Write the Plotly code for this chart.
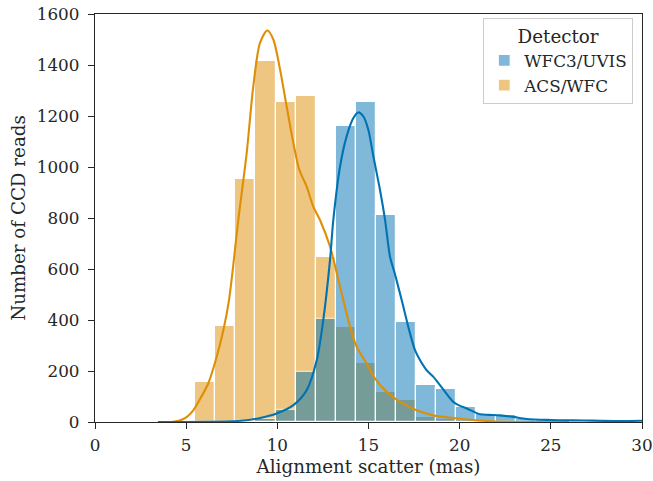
import plotly.graph_objects as go

# ---- data ----
bin_start = 5.5
bin_width = 1.1
wfc3_counts = [0, 1, 3, 10, 46, 196, 403, 1162, 1256, 812, 392, 147, 128, 59, 31, 29,
               12, 10, 6, 5, 4, 4, 3]
acs_counts = [156, 376, 952, 1417, 1256, 1278, 647, 373, 232, 118, 86, 20, 13, 8, 5, 3,
              2, 1, 1, 0, 0, 0, 0]

acs_kde_x = [4.2, 4.6, 5.0, 5.39, 5.8, 6.21, 6.67, 7.04, 7.35, 7.86, 8.32, 8.68, 9.05, 9.45,
             9.78, 10.15, 10.51, 10.88, 11.2, 11.61, 11.97, 12.34, 12.89, 13.44, 13.99, 14.35,
             14.9, 15.36, 16.0, 16.73, 17.64, 18.56, 19.65, 20.57, 21.48, 22.5, 24.0, 26.0]
acs_kde_y = [0, 5, 18, 46, 95, 151, 255, 360, 478, 792, 1055, 1316, 1487, 1535,
             1500, 1382, 1238, 1094, 990, 923, 845, 792, 688, 530, 373, 295,
             229, 170, 118, 79, 46, 26, 16, 9, 4, 1, 0, 0]

wfc3_kde_x = [3.45, 6.0, 8.0, 9.0, 9.96, 10.88, 11.61, 12.16, 12.52, 12.89, 13.07, 13.44, 13.8,
              14.17, 14.44, 14.72, 14.99, 15.27, 15.63, 15.91, 16.18, 16.45, 16.82, 17.28,
              17.55, 17.83, 18.19, 18.56, 18.92, 19.65, 20.0, 20.39, 21.12, 21.6, 22.21,
              22.94, 23.67, 24.96, 26.8, 28.6, 30.0]
wfc3_kde_y = [0, 1, 5, 15, 33, 66, 125, 242, 400, 636, 792, 1002, 1120,
              1192, 1214, 1198, 1146, 1041, 910, 792, 648, 580, 478, 347,
              282, 242, 203, 177, 145, 79, 64, 53, 30, 28, 26,
              20, 12, 8, 6, 4, 5]

labels = ["WFC3/UVIS", "ACS/WFC"]
colors = ["#0173b2", "#de8f05"]

x_ticks = [0, 5, 10, 15, 20, 25, 30]
y_ticks = [0, 200, 400, 600, 800, 1000, 1200, 1400, 1600]

centers = [bin_start + bin_width * (i + 0.5) for i in range(len(wfc3_counts))]

FONT = "DejaVu Serif"
TICK_SIZE = 16.8
TITLE_SIZE = 18.3
fig = go.Figure()

fig.add_trace(go.Bar(x=centers, y=acs_counts, width=bin_width, name=labels[1],
                     marker=dict(color=colors[1], line=dict(color="white", width=1.2)),
                     opacity=0.5, legendrank=2))
fig.add_trace(go.Bar(x=centers, y=wfc3_counts, width=bin_width, name=labels[0],
                     marker=dict(color=colors[0], line=dict(color="white", width=1.2)),
                     opacity=0.5, legendrank=1))
fig.add_trace(go.Scatter(x=acs_kde_x, y=acs_kde_y, mode="lines", showlegend=False,
                         line=dict(color=colors[1], width=2.1, shape="spline", smoothing=0.8),
                         hoverinfo="skip"))
fig.add_trace(go.Scatter(x=wfc3_kde_x, y=wfc3_kde_y, mode="lines", showlegend=False,
                         line=dict(color=colors[0], width=2.1, shape="spline", smoothing=0.8),
                         hoverinfo="skip"))

axis_common = dict(showgrid=False, zeroline=False, showline=True, mirror=True,
                   linecolor="#262626", linewidth=1.3, ticks="outside", ticklen=6,
                   tickwidth=1.3, tickcolor="#262626", automargin=False,
                   tickfont=dict(family=FONT, size=TICK_SIZE, color="#262626"))

fig.update_layout(
    width=653, height=481,
    margin=dict(l=95, r=11, t=14, b=59),
    paper_bgcolor="white", plot_bgcolor="white",
    barmode="overlay", bargap=0,
    font=dict(family=FONT, color="#262626"),
    xaxis=dict(range=[0, 30], tickvals=x_ticks, ticklabelstandoff=2,
               title=dict(text="Alignment scatter (mas)", font=dict(family=FONT, size=TITLE_SIZE),
                          standoff=5),
               **axis_common),
    yaxis=dict(range=[0, 1600], tickvals=y_ticks, ticklabelstandoff=5,
               title=dict(text="Number of CCD reads", font=dict(family=FONT, size=TITLE_SIZE),
                          standoff=6),
               **axis_common),
    legend=dict(x=0.984, y=0.99, xanchor="right", yanchor="top",
                bgcolor="rgba(255,255,255,0.8)", bordercolor="#cccccc", borderwidth=1,
                font=dict(family=FONT, size=TICK_SIZE, color="#262626"),
                title=dict(text="Detector", side="top center",
                           font=dict(family=FONT, size=TITLE_SIZE, color="#262626")),
                tracegroupgap=0, itemwidth=30),
)

fig.write_html("out.html")
